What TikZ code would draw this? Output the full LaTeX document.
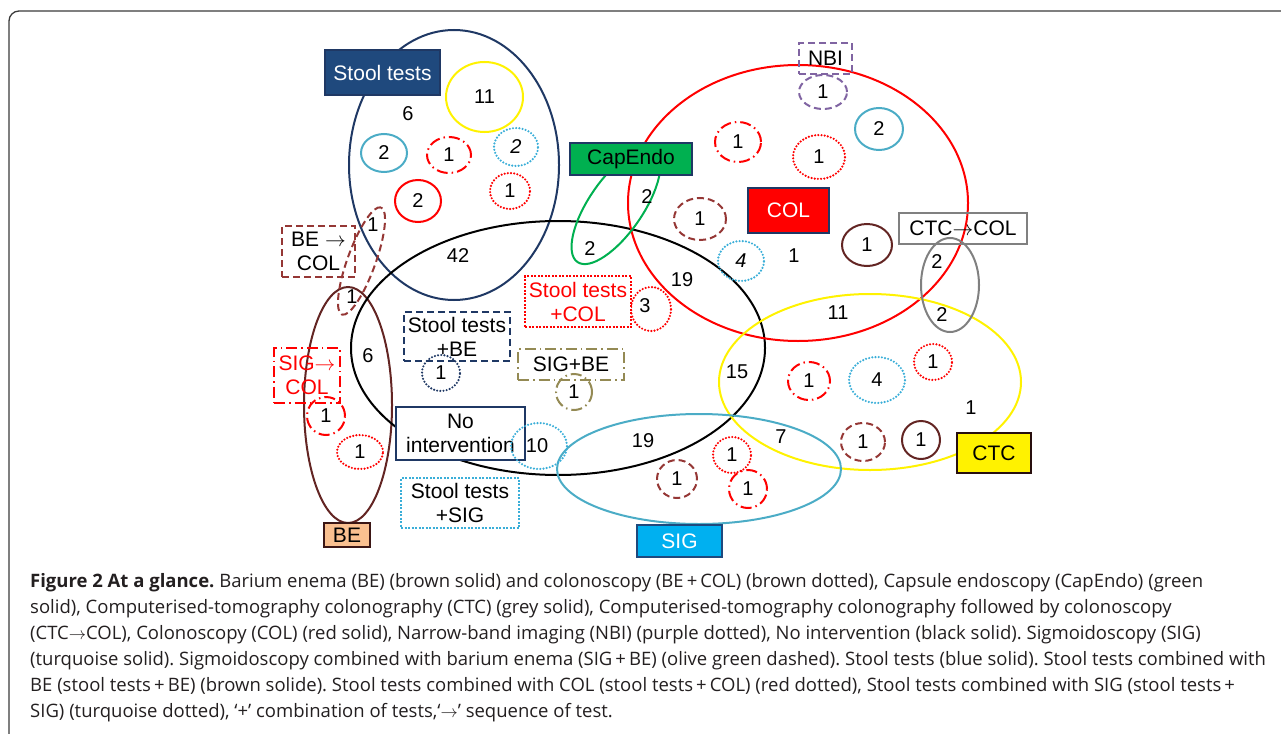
\documentclass[tikz,border=0pt]{standalone}
\usepackage{fontspec}
\setmainfont{Liberation Sans}
\newfontfamily\capfont{Open Sans}
\usetikzlibrary{shapes.geometric}

\definecolor{stoolblue}{HTML}{1F3864}
\definecolor{stoolfill}{HTML}{1F497D}
\definecolor{turq}{HTML}{4BACC6}
\definecolor{turqdot}{HTML}{3AAED8}
\definecolor{sigfill}{HTML}{00B0F0}
\definecolor{brownish}{HTML}{953735}
\definecolor{darkbrown}{HTML}{632523}
\definecolor{capgreen}{HTML}{00B050}
\definecolor{nbipurple}{HTML}{8064A2}
\definecolor{olive}{HTML}{948A54}
\definecolor{ctcgray}{HTML}{808080}
\definecolor{befill}{HTML}{FAC090}
\definecolor{captext}{HTML}{231F20}
\definecolor{framegray}{HTML}{3A3A3A}

\newcommand{\seqarrow}{$\rightarrow$}

\begin{document}
\frenchspacing
\begin{tikzpicture}[x=1pt,y=-1pt,
    every node/.style={font=\fontsize{20}{23}\selectfont},
    set/.style={ellipse,draw,line width=2pt,inner sep=0pt},
    lbl/.style={draw,line width=1.2pt,inner sep=0pt,align=center,font=\fontsize{21}{24}\selectfont},
    dotline/.style={line width=2.4pt,line cap=round,dash pattern=on 0pt off 3.2pt},
    dashline/.style={dash pattern=on 7pt off 4pt},
    dashdotline/.style={dash pattern=on 11pt off 4pt on 1.5pt off 4pt},
    boxdots/.style={dash pattern=on 2pt off 1.5pt}]

    \useasboundingbox (0,0) rectangle (1281,733);
    \draw[line width=1.3pt,framegray,rounded corners=10pt] (9,760) -- (9,11) -- (1300,11);

    % big sets
    \node[set,draw=stoolblue,minimum width=210,minimum height=270] (stool) at (454,165) {};
    \node[set,draw=darkbrown,minimum width=88,minimum height=236] (be) at (348,405) {};
    \node[set,draw=black,minimum width=414,minimum height=254] (none) at (558,348) {};
    \node[set,draw=red,minimum width=340,minimum height=276] (col) at (798,203) {};
    \node[set,draw=yellow,minimum width=302,minimum height=176] (ctc) at (870,382) {};
    \node[set,draw=turq,minimum width=284,minimum height=110] (sig) at (699,469) {};
    \node[set,draw=capgreen,minimum width=136,minimum height=54,rotate=55.5] (capendo) at (616,206) {};
    \node[set,draw=brownish,dashline,minimum width=114,minimum height=28,rotate=70] (becol) at (361.5,261) {};
    \node[set,draw=ctcgray,minimum width=58,minimum height=94] (ctccol) at (950,285) {};

    % small sets
    \node[set,draw=yellow,minimum width=77,minimum height=70] (s11) at (484.5,97) {11};
    \node[set,draw=turq,minimum width=46,minimum height=38] (s2a) at (384,153) {2};
    \node[set,draw=red,dashdotline,minimum width=44,minimum height=36] (s1a) at (449,155) {1};
    \node[set,draw=turqdot,dotline,minimum width=44,minimum height=38] (s2b) at (516,147) {\itshape 2};
    \node[set,draw=red,dotline,minimum width=40,minimum height=36] (s1b) at (510,191) {1};
    \node[set,draw=red,minimum width=46,minimum height=42] (s2c) at (418,201) {2};

    \node[set,draw=red,dashdotline,minimum width=38,minimum height=38] (b1a) at (326,416) {1};
    \node[set,draw=red,dotline,minimum width=46,minimum height=34] (b1b) at (360,452) {1};
    \node[set,draw=stoolblue,dotline,minimum width=38,minimum height=36] (sb1) at (441,373) {1};
    \node[set,draw=olive,dashdotline,minimum width=36,minimum height=36] (sgb1) at (574,392) {1};
    \node[set,draw=red,dotline,minimum width=40,minimum height=44] (sc3) at (651,309) {};

    \node[set,draw=nbipurple,dashline,minimum width=48,minimum height=34] (c1a) at (823,92) {1};
    \node[set,draw=red,dashdotline,minimum width=46,minimum height=40] (c1b) at (738,142) {1};
    \node[set,draw=red,dotline,minimum width=52,minimum height=44] (c1c) at (819,157) {1};
    \node[set,draw=turq,minimum width=48,minimum height=42] (c2a) at (879,129) {2};
    \node[set,draw=brownish,dashline,minimum width=52,minimum height=42] (c1d) at (700,219) {1};
    \node[set,draw=darkbrown,minimum width=50,minimum height=42] (c1e) at (867,245) {1};
    \node[set,draw=turqdot,dotline,minimum width=46,minimum height=40] (c4a) at (741,261) {\itshape 4};

    \node[set,draw=red,dashdotline,minimum width=42,minimum height=38] (t1a) at (809,381) {1};
    \node[set,draw=turqdot,dotline,minimum width=56,minimum height=46] (t4a) at (877,380) {4};
    \node[set,draw=red,dotline,minimum width=38,minimum height=36] (t1b) at (933,362) {1};
    \node[set,draw=brownish,dashline,minimum width=44,minimum height=38] (t1c) at (863,442) {1};
    \node[set,draw=darkbrown,minimum width=38,minimum height=38] (t1d) at (921,440) {1};

    \node[set,draw=brownish,dashline,minimum width=40,minimum height=38] (g1a) at (677,479) {1};
    \node[set,draw=red,dotline,minimum width=38,minimum height=36] (g1b) at (732,455) {1};
    \node[set,draw=red,dashdotline,minimum width=38,minimum height=38] (g1c) at (748,489) {1};

    % labels
    \node[lbl,fill=stoolfill,draw=stoolblue,text=white,minimum width=115,minimum height=45] (stoollbl) at (382.5,72.5) {Stool tests};
    \node[lbl,draw=brownish,dashline,minimum width=73,minimum height=51] (becollbl) at (318.5,251.5) {BE \seqarrow\\COL};
    \node[lbl,draw=red,dashdotline,text=red,minimum width=66,minimum height=55] (sigcollbl) at (307,375.5) {SIG\seqarrow\\COL};
    \node[lbl,draw=stoolblue,dashline,minimum width=106,minimum height=49] (stbelbl) at (457,336.5) {Stool tests\\+BE};
    \node[lbl,draw=olive,dashdotline,minimum width=106,minimum height=31] (sigbelbl) at (571,364.5) {SIG+BE};
    \node[lbl,fill=white,draw=stoolblue,minimum width=129,minimum height=53] (nonelbl) at (460.5,433.5) {No\\intervention};
    \node[set,draw=turqdot,dotline,minimum width=56,minimum height=46] (n10) at (539,446) {};
    \node[lbl,fill=white,draw=turqdot,boxdots,minimum width=118,minimum height=50] (stsiglbl) at (460,503) {Stool tests\\+SIG};
    \node[lbl,fill=white,draw=red,boxdots,text=red,minimum width=106,minimum height=51] (stcollbl) at (578,301.5) {Stool tests\\+COL};
    \node[lbl,fill=befill,draw=darkbrown!60!black,minimum width=46,minimum height=24] (belbl) at (347,535) {BE};
    \node[lbl,fill=sigfill,draw=stoolfill,text=white,minimum width=85,minimum height=32] (siglbl) at (679.5,541) {SIG};
    \node[lbl,fill=yellow,draw=darkbrown!40!black,minimum width=74,minimum height=40] (ctclbl) at (994,453) {CTC};
    \node[lbl,draw=ctcgray,minimum width=128,minimum height=31] (ctccollbl) at (963,228.5) {CTC\seqarrow COL};
    \node[lbl,fill=red,draw=stoolblue,text=white,minimum width=81,minimum height=45] (collbl) at (788.5,210.5) {COL};
    \node[lbl,draw=nbipurple,dashline,minimum width=53,minimum height=31] (nbilbl) at (825.5,58.5) {NBI};
    \node[lbl,fill=capgreen,draw=stoolblue,minimum width=122,minimum height=32] (capendolbl) at (631,159) {CapEndo};

    % counts
    \node (n6a) at (408,114) {6};
    \node (n42) at (458,256) {42};
    \node (n1a) at (373,225) {1};
    \node (n1b) at (352,297) {1};
    \node (n6b) at (368,356) {6};
    \node (n10t) at (537,446) {10};
    \node (n3) at (645,306) {3};
    \node (n19a) at (682,280) {19};
    \node (n15) at (737,372) {15};
    \node (n2a) at (647,197) {2};
    \node (n2b) at (590,249) {2};
    \node (n1c) at (794,256) {1};
    \node (n2c) at (937,262) {2};
    \node (n2d) at (942,315) {2};
    \node (n11) at (838,313) {11};
    \node (n1d) at (971,408) {1};
    \node (n7) at (781,437) {7};
    \node (n19b) at (643,441) {19};

    % caption
    \node[anchor=north west,align=left,inner sep=0pt,text=captext,font=\capfont\fontsize{18.5}{26}\selectfont] (caption) at (30,573)
    {\textbf{Figure 2 At a glance.} Barium enema (BE) (brown solid) and colonoscopy (BE\,+\,COL) (brown dotted), Capsule endoscopy (CapEndo) (green\\
    solid), Computerised-tomography colonography (CTC) (grey solid), Computerised-tomography colonography followed by colonoscopy\\
    (CTC\seqarrow COL), Colonoscopy (COL) (red solid), Narrow-band imaging (NBI) (purple dotted), No intervention (black solid). Sigmoidoscopy (SIG)\\
    (turquoise solid). Sigmoidoscopy combined with barium enema (SIG\,+\,BE) (olive green dashed). Stool tests (blue solid). Stool tests combined with\\
    BE (stool tests\,+\,BE) (brown solide). Stool tests combined with COL (stool tests\,+\,COL) (red dotted), Stool tests combined with SIG (stool tests\,+\\
    SIG) (turquoise dotted), ‘+’ combination of tests,‘\seqarrow’ sequence of test.};
\end{tikzpicture}
\end{document}
